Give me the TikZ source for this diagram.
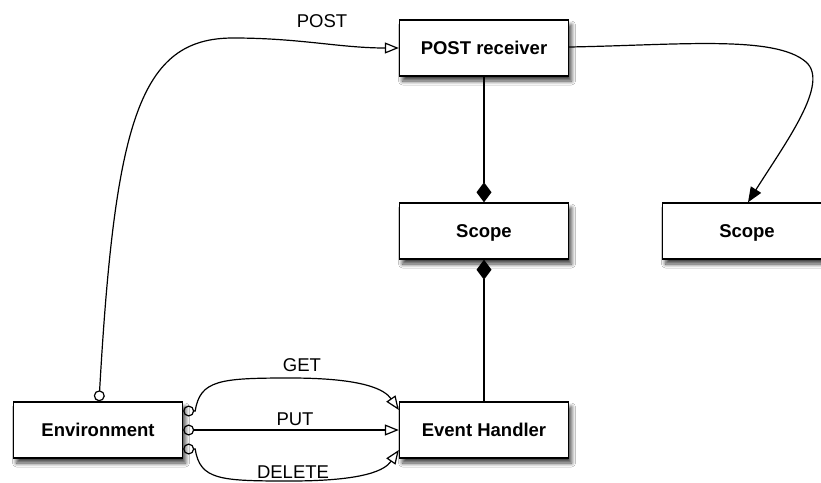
\documentclass[tikz,border=0pt]{standalone}
\usepackage{fontspec}
\setmainfont{Liberation Sans}
\usetikzlibrary{arrows.meta,shadows.blur}
\begin{document}
\begin{tikzpicture}[x=1pt,y=-1pt,
 box/.style={draw, fill=white, line width=1.4pt, minimum width=169pt, minimum height=56pt, inner sep=0pt,
   font=\fontsize{18.5}{22}\selectfont\bfseries, text height=13.3pt, text depth=0pt,
   blur shadow={shadow xshift=3pt, shadow yshift=-5pt, shadow blur radius=4pt, shadow blur steps=8, shadow opacity=75}},
 lbl/.style={anchor=base, inner sep=0pt, font=\fontsize{18.5}{22}\selectfont},
 conn/.style={line width=1.2pt},
 assoc/.style={conn, {Circle[open,length=11pt]}-{Triangle[open,length=14pt,width=11pt]}},
 compo/.style={conn, -{Diamond[length=20pt,width=15pt]}},
 solidarrow/.style={conn, -{Triangle[length=15pt,width=12pt]}}]
\clip (0,0) rectangle (821,482);
\fill[white] (0,0) rectangle (821,482);

\node[box] (post) at (484,48) {POST receiver};
\node[box] (scopem) at (484,231) {Scope};
\node[box] (scoper) at (747,231) {Scope};
\node[box] (env) at (98,430) {Environment};
\node[box] (eh) at (484,430) {Event Handler};

\draw[compo] (post.south) -- (scopem.north);
\draw[compo] (eh.north) -- (scopem.south);

\draw[solidarrow] ([yshift=1pt]post.east) .. controls (680,45) and (775,35) .. (806,62)
  .. controls (830,83) and (786,142) .. ([xshift=1pt]scoper.north);

\draw[assoc] ([xshift=1pt]env.north) .. controls (115,120) and (140,38) .. (233,38)
  .. controls (300,38) and (340,48) .. (post.west);

\draw[assoc] ([yshift=19pt]env.east) -- ++(12,0) .. controls (200,380) and (220,378) .. (290,378)
  .. controls (365,378) and (385,390) .. ([yshift=20pt]eh.west);
\draw[assoc] (env.east) -- (eh.west);
\draw[assoc] ([yshift=-19pt]env.east) -- ++(12,0) .. controls (200,480) and (220,481) .. (290,481)
  .. controls (365,481) and (385,470) .. ([yshift=-20pt]eh.west);

\node[lbl] (lpost) at (322,27) {POST};
\node[lbl] (lget) at (302,371) {GET};
\node[lbl] (lput) at (295,425) {PUT};
\node[lbl] (ldel) at (293,478) {DELETE};
\end{tikzpicture}
\end{document}
